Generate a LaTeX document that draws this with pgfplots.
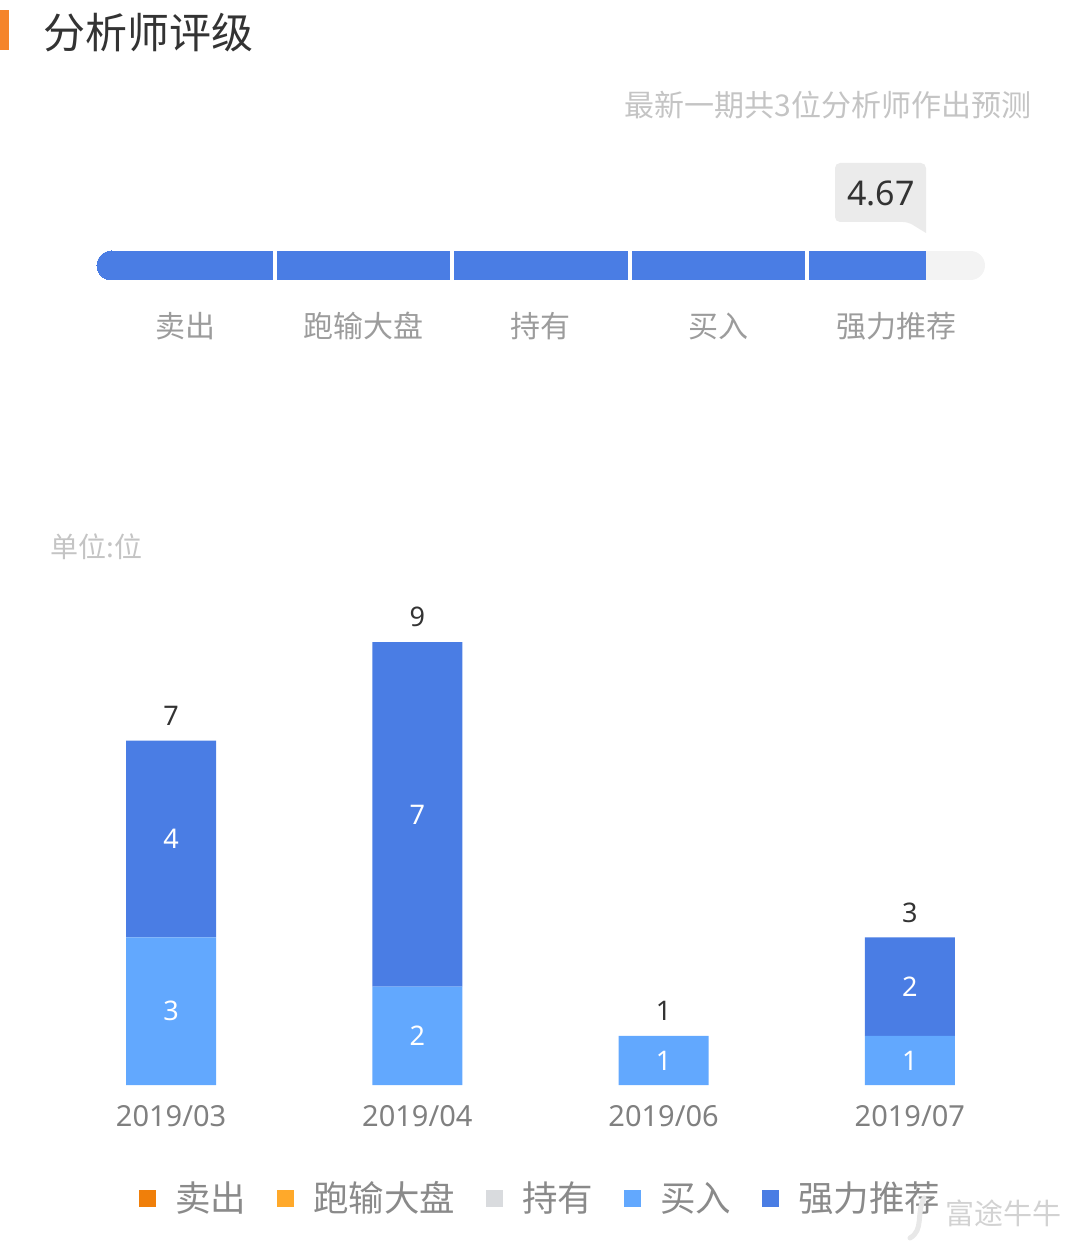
\documentclass[border=0pt]{standalone}
\usepackage{pgfplots}
\pgfplotsset{compat=1.18}
\usepackage{fontspec}
\setmainfont{Noto Sans}
\newfontfamily\cjk{Noto Sans CJK SC}
\definecolor{strongc}{HTML}{4A7DE4}
\definecolor{buyc}{HTML}{62A8FE}
\definecolor{sellc}{HTML}{F07F0A}
\definecolor{underc}{HTML}{FFA92A}
\definecolor{holdc}{HTML}{D9DBDE}
\definecolor{bggray}{HTML}{F3F3F3}
\definecolor{callgray}{HTML}{EBEBEB}
\definecolor{titleorange}{HTML}{F5842A}
\definecolor{darktext}{HTML}{333333}
\definecolor{lighttext}{HTML}{C4C4C4}
\definecolor{midtext}{HTML}{9C9C9C}
\definecolor{ticktext}{HTML}{808080}
\definecolor{legtext}{HTML}{8A8A8A}
\pgfplotsset{sqlegend/.style={legend image code/.code={\fill[##1] (0pt,-4.25pt) rectangle (8.5pt,4.25pt);}}}
\begin{document}
\begin{tikzpicture}
\useasboundingbox (0,0) rectangle (541pt,625pt);
% title
\fill[titleorange] (0pt,600pt) rectangle (4.5pt,620pt);
\node[anchor=west, inner sep=0pt, text=darktext, font=\cjk\fontsize{21}{24}\selectfont] at (21.5pt,608.5pt) {分析师评级};
\node[anchor=east, inner sep=0pt, text=lighttext, font=\cjk\fontsize{15}{18}\selectfont] at (516pt,572.5pt) {最新一期共3位分析师作出预测};
% rating bar
\begin{axis}[at={(48.5pt,492.25pt)}, anchor=west, scale only axis, width=444pt, height=20pt,
  xmin=0, xmax=5, ymin=-1, ymax=1, hide axis, clip=false]
\addplot[draw=bggray, line width=14.5pt, line cap=round] coordinates {(0.0816,0) (4.9184,0)};
\addplot[draw=strongc, line width=14.5pt, line cap=butt] coordinates {(0.0816,0) (4.67,0)};
\addplot[strongc, only marks, mark=*, mark size=7.25pt, mark options={draw=strongc, fill=strongc, line width=0pt}] coordinates {(0.0816,0)};
\addplot[white, only marks, mark=|, mark size=7.6pt, mark options={draw=white, line width=2pt}] coordinates {(1,0) (2,0) (3,0) (4,0)};
\foreach \xx/\lab in {0.5/卖出, 1.5/跑输大盘, 2.5/持有, 3.5/买入, 4.5/强力推荐} {
  \edef\temp{\noexpand\node[text=midtext, font=\noexpand\cjk\noexpand\fontsize{15}{18}\noexpand\selectfont, yshift=-30.25pt] at (axis cs:\xx,0) {\lab};}
  \temp
}
\end{axis}
% callout
\fill[callgray] (454pt,514pt) -- (463pt,508.5pt) [rounded corners=2.5pt] -- (463pt,543.5pt) -- (417.5pt,543.5pt) -- (417.5pt,514pt) -- cycle;
\node[text=darktext, font=\fontsize{17}{20}\selectfont] at (440.5pt,528.5pt) {4.67};
% unit
\node[anchor=west, inner sep=0pt, text=lighttext, font=\cjk\fontsize{14}{17}\selectfont] at (25pt,351.5pt) {单位:位};
% bar chart
\begin{axis}[at={(24pt,82.5pt)}, anchor=south west, scale only axis, width=492.5pt, height=246pt,
  xmin=-0.5, xmax=3.5, ymin=0, ymax=10, clip=false,
  ybar stacked, bar width=45pt,
  axis line style={draw=none}, major tick length=0pt, ytick=\empty,
  xtick={0,1,2,3}, xticklabels={2019/03,2019/04,2019/06,2019/07},
  /pgf/number format/assume math mode=true,
  xticklabel style={font=\fontsize{14.5}{17}\selectfont, text=ticktext, yshift=-6.5pt},
  legend columns=-1,
  legend style={draw=none, fill=none, inner sep=0pt, outer sep=0pt, at={(0.0924,-0.2297)}, anchor=west,
    font=\cjk\fontsize{17.75}{20}\selectfont, text=legtext,
    nodes={inner sep=0pt},
    /tikz/every odd column/.append style={column sep=9.5pt},
    /tikz/every even column/.append style={column sep=15.5pt}},
]
\addplot[fill=sellc, draw=none, sqlegend] coordinates {(0,0) (1,0) (2,0) (3,0)};
\addlegendentry{卖出}
\addplot[fill=underc, draw=none, sqlegend] coordinates {(0,0) (1,0) (2,0) (3,0)};
\addlegendentry{跑输大盘}
\addplot[fill=holdc, draw=none, sqlegend] coordinates {(0,0) (1,0) (2,0) (3,0)};
\addlegendentry{持有}
\addplot[fill=buyc, draw=none, sqlegend] coordinates {(0,3) (1,2) (2,1) (3,1)};
\addlegendentry{买入}
\addplot[fill=strongc, draw=none, sqlegend] coordinates {(0,4) (1,7) (2,0) (3,2)};
\addlegendentry{强力推荐}
\end{axis}
% value labels (same geometry)
\begin{axis}[at={(24pt,82.5pt)}, anchor=south west, scale only axis, width=492.5pt, height=246pt,
  xmin=-0.5, xmax=3.5, ymin=0, ymax=10, clip=false, hide axis]
\foreach \xx/\yy/\lab in {0/1.5/3, 0/5/4, 1/1/2, 1/5.5/7, 2/0.5/1, 3/0.5/1, 3/2/2} {
  \edef\temp{\noexpand\node[text=white, font=\noexpand\fontsize{13.5}{16}\noexpand\selectfont] at (axis cs:\xx,\yy) {\lab};}
  \temp
}
\foreach \xx/\yy/\lab in {0/7/7, 1/9/9, 2/1/1, 3/3/3} {
  \edef\temp{\noexpand\node[text=darktext, font=\noexpand\fontsize{13.5}{16}\noexpand\selectfont, yshift=12.5pt] at (axis cs:\xx,\yy) {\lab};}
  \temp
}
\end{axis}
% watermark
\draw[line width=2.5pt, gray!18, line cap=round] (462pt,26pt) .. controls (458pt,18pt) and (462pt,10pt) .. (455pt,6pt);
\node[anchor=west, inner sep=0pt, text=gray!35, font=\cjk\fontsize{14.5}{17}\selectfont] at (472.5pt,18.5pt) {富途牛牛};
\end{tikzpicture}
\end{document}
